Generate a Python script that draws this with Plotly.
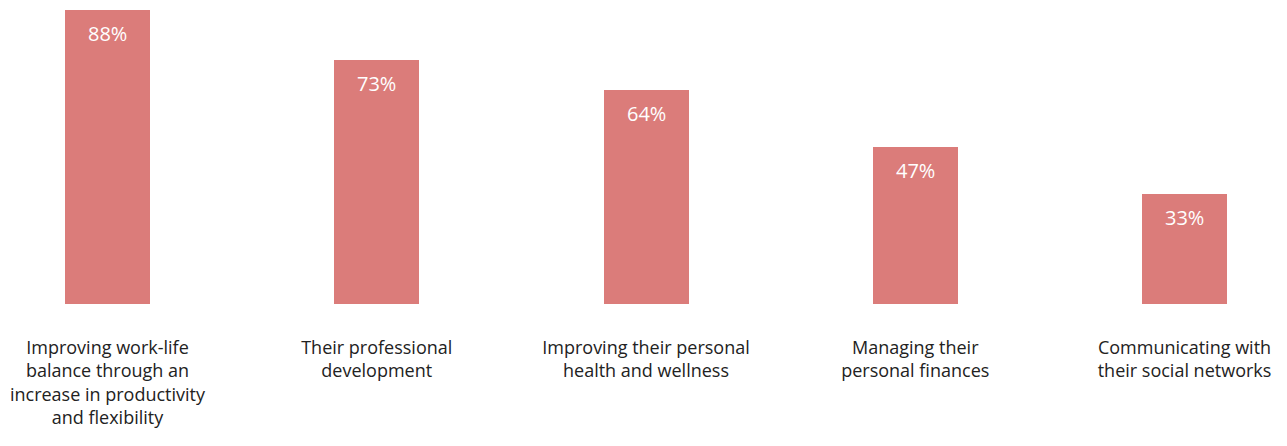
import plotly.graph_objects as go

categories = [
    "Improving work-life<br>balance through an<br>increase in productivity<br>and flexibility",
    "Their professional<br>development",
    "Improving their personal<br>health and wellness",
    "Managing their<br>personal finances",
    "Communicating with<br>their social networks",
]
values = [88, 73, 64, 47, 33]
value_labels = [f"{v}%" for v in values]

BAR_COLOR = "#DB7C7A"
FONT = "Open Sans, Liberation Sans, Arial, sans-serif"

xpos = list(range(len(categories)))

fig = go.Figure()
fig.add_trace(go.Bar(
    x=xpos, y=values, width=0.3157,
    marker=dict(color=BAR_COLOR, line=dict(width=0)),
    hoverinfo="skip",
))

for x, v, t in zip(xpos, values, value_labels):
    fig.add_annotation(
        x=x, y=v, text=t, showarrow=False, xref="x", yref="y",
        yanchor="top", yshift=-8,
        font=dict(family=FONT, size=20, color="white"),
    )

fig.update_layout(
    width=1279, height=438,
    margin=dict(l=0, r=0, t=2, b=142),
    paper_bgcolor="white", plot_bgcolor="white",
    showlegend=False,
    bargap=0,
    xaxis=dict(
        range=[-0.36955, 4.38065],
        tickmode="array", tickvals=xpos, ticktext=categories,
        showgrid=False, zeroline=False, showline=False, ticks="",
        ticklabelstandoff=31,
        tickfont=dict(family=FONT, size=18, color="#222222"),
        fixedrange=True,
    ),
    yaxis=dict(
        range=[0, 88], visible=False, showgrid=False, zeroline=False,
        fixedrange=True,
    ),
)

fig.write_html("out.html")
